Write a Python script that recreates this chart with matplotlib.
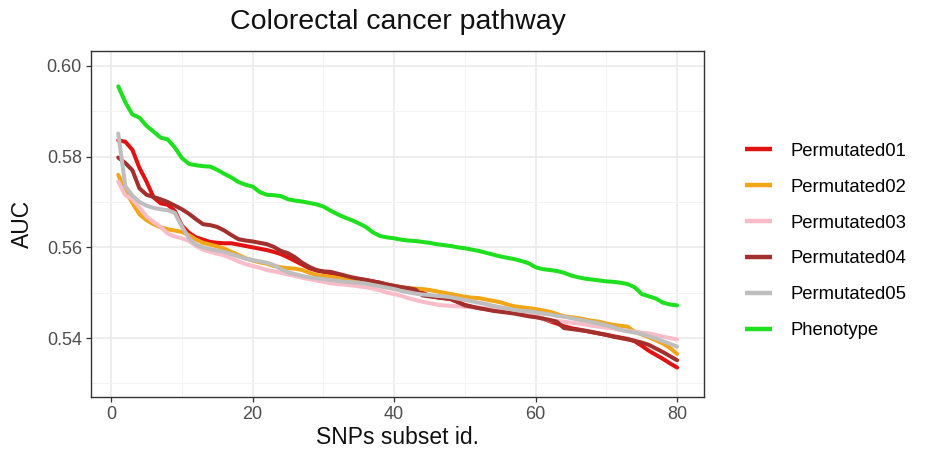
import matplotlib
matplotlib.use("Agg")
import matplotlib.pyplot as plt
from matplotlib.ticker import MultipleLocator
import numpy as np

subset_id = list(range(1, 81))

permutated01 = [0.5836, 0.5833, 0.5815, 0.5775, 0.5745, 0.5710, 0.5697, 0.5694, 0.5680, 0.5648,
                0.5632, 0.5622, 0.5617, 0.5612, 0.5610, 0.5609, 0.5609, 0.5606, 0.5603, 0.5600,
                0.5597, 0.5594, 0.5590, 0.5585, 0.5578, 0.5570, 0.5562, 0.5554, 0.5549, 0.5546,
                0.5543, 0.5540, 0.5536, 0.5532, 0.5530, 0.5528, 0.5525, 0.5522, 0.5518, 0.5515,
                0.5512, 0.5509, 0.5506, 0.5500, 0.5493, 0.5490, 0.5488, 0.5486, 0.5480, 0.5473,
                0.5469, 0.5466, 0.5464, 0.5462, 0.5460, 0.5458, 0.5455, 0.5453, 0.5451, 0.5448,
                0.5443, 0.5437, 0.5432, 0.5426, 0.5422, 0.5419, 0.5416, 0.5413, 0.5410, 0.5407,
                0.5404, 0.5401, 0.5398, 0.5393, 0.5383, 0.5372, 0.5363, 0.5354, 0.5344, 0.5335]

permutated02 = [0.5760, 0.5725, 0.5698, 0.5673, 0.5660, 0.5651, 0.5644, 0.5640, 0.5637, 0.5634,
                0.5627, 0.5617, 0.5610, 0.5606, 0.5602, 0.5597, 0.5590, 0.5583, 0.5576, 0.5571,
                0.5567, 0.5564, 0.5559, 0.5556, 0.5554, 0.5553, 0.5550, 0.5544, 0.5539, 0.5537,
                0.5535, 0.5533, 0.5531, 0.5529, 0.5527, 0.5524, 0.5522, 0.5520, 0.5517, 0.5514,
                0.5512, 0.5510, 0.5509, 0.5508, 0.5506, 0.5503, 0.5500, 0.5497, 0.5494, 0.5491,
                0.5489, 0.5488, 0.5485, 0.5482, 0.5479, 0.5474, 0.5470, 0.5468, 0.5466, 0.5464,
                0.5461, 0.5458, 0.5453, 0.5448, 0.5446, 0.5444, 0.5441, 0.5438, 0.5436, 0.5432,
                0.5429, 0.5427, 0.5425, 0.5414, 0.5408, 0.5402, 0.5395, 0.5388, 0.5378, 0.5365]

permutated03 = [0.5745, 0.5715, 0.5706, 0.5688, 0.5668, 0.5656, 0.5645, 0.5630, 0.5624, 0.5620,
                0.5614, 0.5603, 0.5595, 0.5590, 0.5586, 0.5582, 0.5576, 0.5569, 0.5563, 0.5559,
                0.5555, 0.5550, 0.5547, 0.5544, 0.5540, 0.5537, 0.5533, 0.5530, 0.5527, 0.5524,
                0.5521, 0.5519, 0.5518, 0.5516, 0.5514, 0.5512, 0.5509, 0.5505, 0.5500, 0.5497,
                0.5493, 0.5488, 0.5484, 0.5480, 0.5477, 0.5474, 0.5472, 0.5471, 0.5470, 0.5469,
                0.5468, 0.5467, 0.5466, 0.5465, 0.5465, 0.5463, 0.5461, 0.5458, 0.5455, 0.5450,
                0.5443, 0.5439, 0.5438, 0.5436, 0.5434, 0.5432, 0.5430, 0.5427, 0.5425, 0.5423,
                0.5421, 0.5418, 0.5416, 0.5414, 0.5412, 0.5410, 0.5407, 0.5403, 0.5400, 0.5397]

permutated04 = [0.5798, 0.5786, 0.5770, 0.5730, 0.5716, 0.5711, 0.5706, 0.5700, 0.5692, 0.5684,
                0.5674, 0.5662, 0.5651, 0.5649, 0.5645, 0.5637, 0.5627, 0.5618, 0.5615, 0.5613,
                0.5610, 0.5607, 0.5601, 0.5592, 0.5587, 0.5578, 0.5566, 0.5557, 0.5550, 0.5547,
                0.5546, 0.5542, 0.5538, 0.5534, 0.5531, 0.5528, 0.5525, 0.5522, 0.5518, 0.5515,
                0.5512, 0.5510, 0.5507, 0.5494, 0.5492, 0.5490, 0.5488, 0.5486, 0.5479, 0.5472,
                0.5469, 0.5466, 0.5463, 0.5460, 0.5458, 0.5456, 0.5454, 0.5451, 0.5448, 0.5446,
                0.5443, 0.5440, 0.5436, 0.5422, 0.5420, 0.5418, 0.5416, 0.5413, 0.5410, 0.5407,
                0.5403, 0.5400, 0.5397, 0.5394, 0.5390, 0.5385, 0.5377, 0.5369, 0.5360, 0.5351]

permutated05 = [0.5851, 0.5735, 0.5714, 0.5700, 0.5692, 0.5687, 0.5684, 0.5682, 0.5676, 0.5646,
                0.5620, 0.5606, 0.5600, 0.5596, 0.5593, 0.5590, 0.5585, 0.5580, 0.5575, 0.5572,
                0.5569, 0.5566, 0.5561, 0.5552, 0.5545, 0.5541, 0.5537, 0.5534, 0.5532, 0.5530,
                0.5528, 0.5526, 0.5524, 0.5523, 0.5522, 0.5520, 0.5517, 0.5514, 0.5511, 0.5508,
                0.5504, 0.5501, 0.5498, 0.5496, 0.5495, 0.5493, 0.5492, 0.5490, 0.5487, 0.5484,
                0.5481, 0.5478, 0.5475, 0.5471, 0.5468, 0.5465, 0.5462, 0.5460, 0.5459, 0.5457,
                0.5454, 0.5452, 0.5449, 0.5447, 0.5444, 0.5441, 0.5438, 0.5435, 0.5432, 0.5428,
                0.5424, 0.5418, 0.5415, 0.5412, 0.5409, 0.5404, 0.5399, 0.5393, 0.5387, 0.5381]

phenotype = [0.5955, 0.5920, 0.5893, 0.5886, 0.5868, 0.5855, 0.5842, 0.5838, 0.5820, 0.5797,
             0.5784, 0.5781, 0.5779, 0.5778, 0.5771, 0.5762, 0.5754, 0.5744, 0.5738, 0.5734,
             0.5722, 0.5716, 0.5715, 0.5713, 0.5706, 0.5703, 0.5701, 0.5698, 0.5695, 0.5690,
             0.5681, 0.5673, 0.5666, 0.5660, 0.5653, 0.5645, 0.5633, 0.5625, 0.5622, 0.5620,
             0.5617, 0.5615, 0.5614, 0.5612, 0.5610, 0.5607, 0.5605, 0.5603, 0.5600, 0.5598,
             0.5595, 0.5592, 0.5588, 0.5584, 0.5580, 0.5577, 0.5574, 0.5570, 0.5565, 0.5556,
             0.5552, 0.5550, 0.5548, 0.5544, 0.5538, 0.5534, 0.5531, 0.5529, 0.5527, 0.5525,
             0.5524, 0.5522, 0.5519, 0.5512, 0.5497, 0.5492, 0.5487, 0.5478, 0.5474, 0.5472]

series_names = ["Permutated01", "Permutated02", "Permutated03",
                "Permutated04", "Permutated05", "Phenotype"]
series_values = [permutated01, permutated02, permutated03,
                 permutated04, permutated05, phenotype]
series_colors = ["#E01212", "#F2A516", "#F9BCC8", "#A3302C", "#BEBEBE", "#1FE01F"]

title = "Colorectal cancer pathway"
x_label = "SNPs subset id."
y_label = "AUC"
x_ticks = [0, 20, 40, 60, 80]
y_ticks = [0.54, 0.56, 0.58, 0.60]

plt.rcParams['font.family'] = ['Liberation Sans', 'DejaVu Sans']

fig = plt.figure(figsize=(9.27, 4.55), dpi=100)
ax = fig.add_axes([91/927, 1-397/455, (704-91)/927, (397-51)/455])

for name, vals, col in zip(series_names, series_values, series_colors):
    ax.plot(subset_id, vals, color=col, lw=2.9, label=name, solid_capstyle='round',
            solid_joinstyle='round')

ax.set_xlim(-2.85, 83.8)
ax.set_ylim(0.5270, 0.6033)
ax.set_xticks(x_ticks)
ax.set_xticklabels([str(t) for t in x_ticks])
ax.set_yticks(y_ticks)
ax.set_yticklabels([f"{t:.2f}" for t in y_ticks])
ax.xaxis.set_minor_locator(MultipleLocator(10))
ax.yaxis.set_minor_locator(MultipleLocator(0.01))

ax.grid(which='major', color='#EBEBEB', lw=1.2, zorder=0)
ax.grid(which='minor', color='#F3F3F3', lw=0.7, zorder=0)
ax.set_axisbelow(True)
for sp in ax.spines.values():
    sp.set_color('#333333')
    sp.set_linewidth(1.0)
ax.tick_params(which='major', length=3.5, width=0.9, color='#333333',
               labelsize=13, labelcolor='#4D4D4D', pad=3)
ax.tick_params(which='minor', length=0)

fig.text((91+704)/2/927, 1-22/455, title, fontsize=20.5, ha='center', va='center',
         color='#111111')
fig.text((91+704)/2/927, 1-437/455, x_label, fontsize=16.5, ha='center', va='center',
         color='#111111')
fig.text(22/927, 1-(51+397)/2/455, y_label, fontsize=16.5, ha='center', va='center',
         rotation=90, color='#111111')

leg = ax.legend(loc='center left', bbox_to_anchor=(745/927, 1-241/455),
                bbox_transform=fig.transFigure, frameon=False, fontsize=13.3,
                handlelength=1.46, handletextpad=0.98, labelspacing=1.02,
                borderpad=0, borderaxespad=0)
for line in leg.get_lines():
    line.set_linewidth(3.2)
    line.set_solid_capstyle('butt')

fig.savefig("out.png", dpi=100)
